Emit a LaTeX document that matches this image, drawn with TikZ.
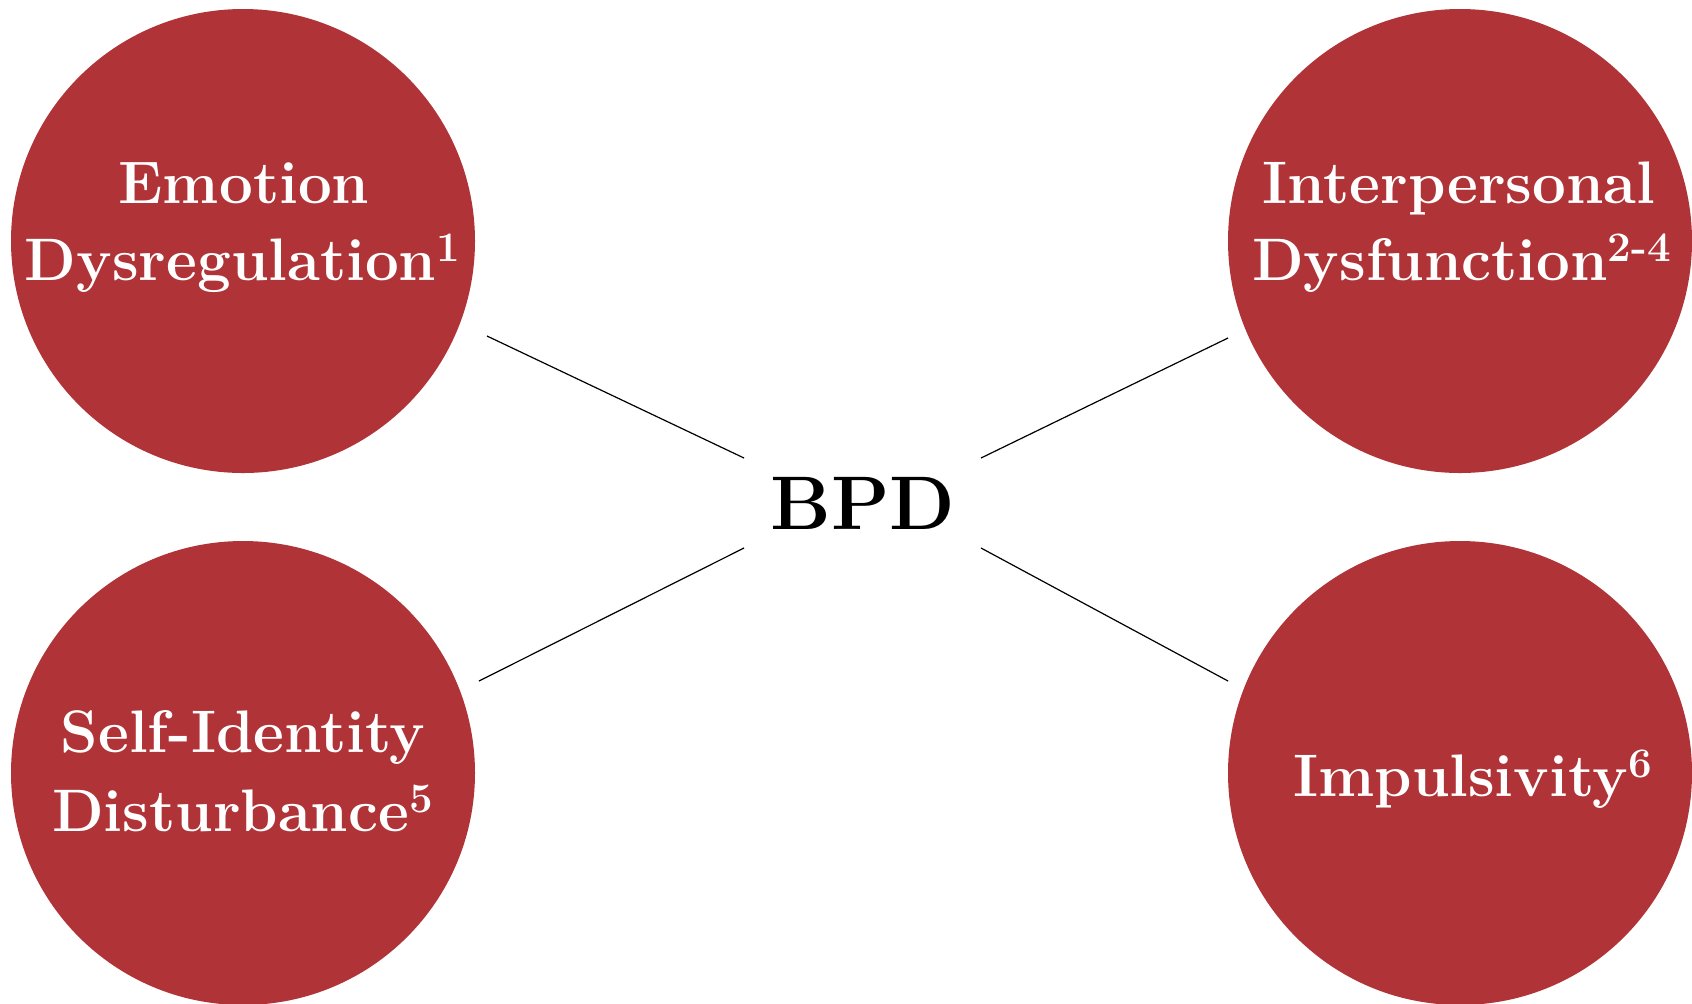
\documentclass[tikz,border=0pt]{standalone}
\usepackage{tikz}
\definecolor{bpdred}{HTML}{B03337}
\tikzset{
  disc/.style={circle, fill=bpdred, draw=none, minimum size=232pt, inner sep=0pt},
  lbl/.style={text=white, font=\fontsize{30}{38.5}\selectfont\bfseries, anchor=base, inner sep=0pt},
  link/.style={draw=black, line width=0.6pt},
}
\begin{document}
\begin{tikzpicture}[x=0.5pt, y=-0.5pt]
\useasboundingbox (0,0) rectangle (1692,1003);
\clip (0,0) rectangle (1692,1003);
% circles
\node[disc] (tl) at (243,241) {};
\node[disc] (tr) at (1460,241) {};
\node[disc] (bl) at (243,773) {};
\node[disc] (br) at (1460,773) {};
% labels
\node[lbl] (tla) at (244,203) {Emotion};
\node[lbl] (tlb) at (243,280) {Dysregulation\textsuperscript{1}};
\node[lbl] (tra) at (1459,203) {Interpersonal};
\node[lbl] (trb) at (1462,280) {Dysfunction\textsuperscript{2-4}};
\node[lbl] (bla) at (243,752) {Self-Identity};
\node[lbl] (blb) at (243,831) {Disturbance\textsuperscript{5}};
\node[lbl] (bra) at (1473,796) {Impulsivity\textsuperscript{6}};
% center
\node[font=\fontsize{38}{44}\selectfont\bfseries, anchor=base, inner sep=0pt] (bpd) at (863,529) {BPD};
% connector ends
\coordinate (a1) at (487,336);  \coordinate (a2) at (744,458);
\coordinate (b1) at (1228,338); \coordinate (b2) at (981,458);
\coordinate (c1) at (479,681);  \coordinate (c2) at (744,548);
\coordinate (d1) at (1228,681); \coordinate (d2) at (981,548);
\draw[link] (a1) -- (a2);
\draw[link] (b1) -- (b2);
\draw[link] (c1) -- (c2);
\draw[link] (d1) -- (d2);
\end{tikzpicture}
\end{document}
